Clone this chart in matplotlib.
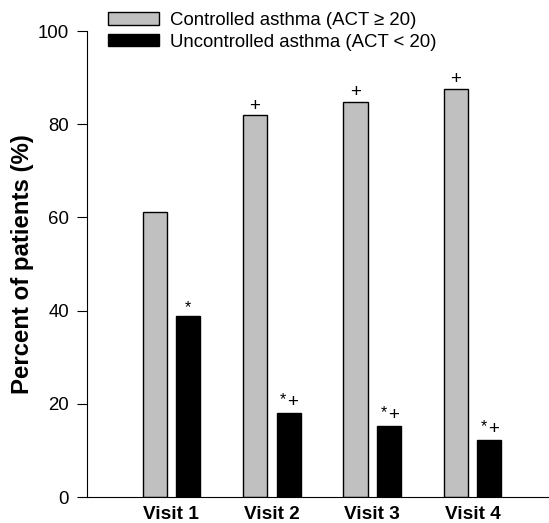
import numpy as np
import matplotlib.pyplot as plt
from matplotlib.patches import Patch

plt.rcParams['font.family'] = ['Liberation Sans', 'DejaVu Sans']

visits = ['Visit 1', 'Visit 2', 'Visit 3', 'Visit 4']
controlled = [61.2, 81.9, 84.8, 87.6]
uncontrolled = [38.8, 18.1, 15.3, 12.3]
controlled_marks = ['', '+', '+', '+']
uncontrolled_marks = ['*', '*+', '*+', '*+']

fig = plt.figure(figsize=(5.49, 5.23), dpi=100)
ax = fig.add_axes([0.1585, 0.0497, 0.8415, 0.891])

x = np.arange(len(visits))
w = 0.24
off = 0.167
ax.bar(x - off, controlled, w, color='#c0c0c0', edgecolor='black', linewidth=1)
ax.bar(x + off, uncontrolled, w, color='black', edgecolor='black', linewidth=1)

# significance marks above bars
for xi, v, m in zip(x - off, controlled, controlled_marks):
    if m:
        ax.annotate(m, (xi, v), xytext=(0, 0.5), textcoords='offset points',
                    ha='center', va='bottom', fontsize=13.5)
for xi, v, m in zip(x + off, uncontrolled, uncontrolled_marks):
    if m == '*':
        ax.annotate('*', (xi, v), xytext=(0, 1), textcoords='offset points',
                    ha='center', va='bottom', fontsize=11.5)
    else:
        ax.annotate('*', (xi, v), xytext=(-4, 4), textcoords='offset points',
                    ha='center', va='bottom', fontsize=11.5)
        ax.annotate('+', (xi, v), xytext=(3, 1), textcoords='offset points',
                    ha='center', va='bottom', fontsize=13.5)

ax.set_xlim(-0.84, 3.76)
ax.set_ylim(0, 100)
ax.set_yticks([0, 20, 40, 60, 80, 100])
ax.set_xticks(x)
ax.set_xticklabels(visits, fontweight='bold', fontsize=13.7)
ax.tick_params(axis='x', length=0, pad=6.5)
ax.tick_params(axis='y', direction='out', length=7, labelsize=13.4, pad=6)
ax.spines['top'].set_visible(False)
ax.spines['right'].set_visible(False)
ax.set_ylabel('Percent of patients (%)', fontweight='bold', fontsize=17.3, labelpad=3)

handles = [Patch(facecolor='#c0c0c0', edgecolor='black', linewidth=1),
           Patch(facecolor='black', edgecolor='black')]
fig.legend(handles, ['Controlled asthma (ACT \u2265 20)', 'Uncontrolled asthma (ACT < 20)'],
           loc='upper left', bbox_to_anchor=(108 / 549, 1 - 12 / 523), frameon=False,
           fontsize=13.4, handlelength=2.74, handleheight=0.65, labelspacing=0.25,
           borderpad=0, borderaxespad=0, handletextpad=0.6)

fig.savefig('out.png', dpi=100)
